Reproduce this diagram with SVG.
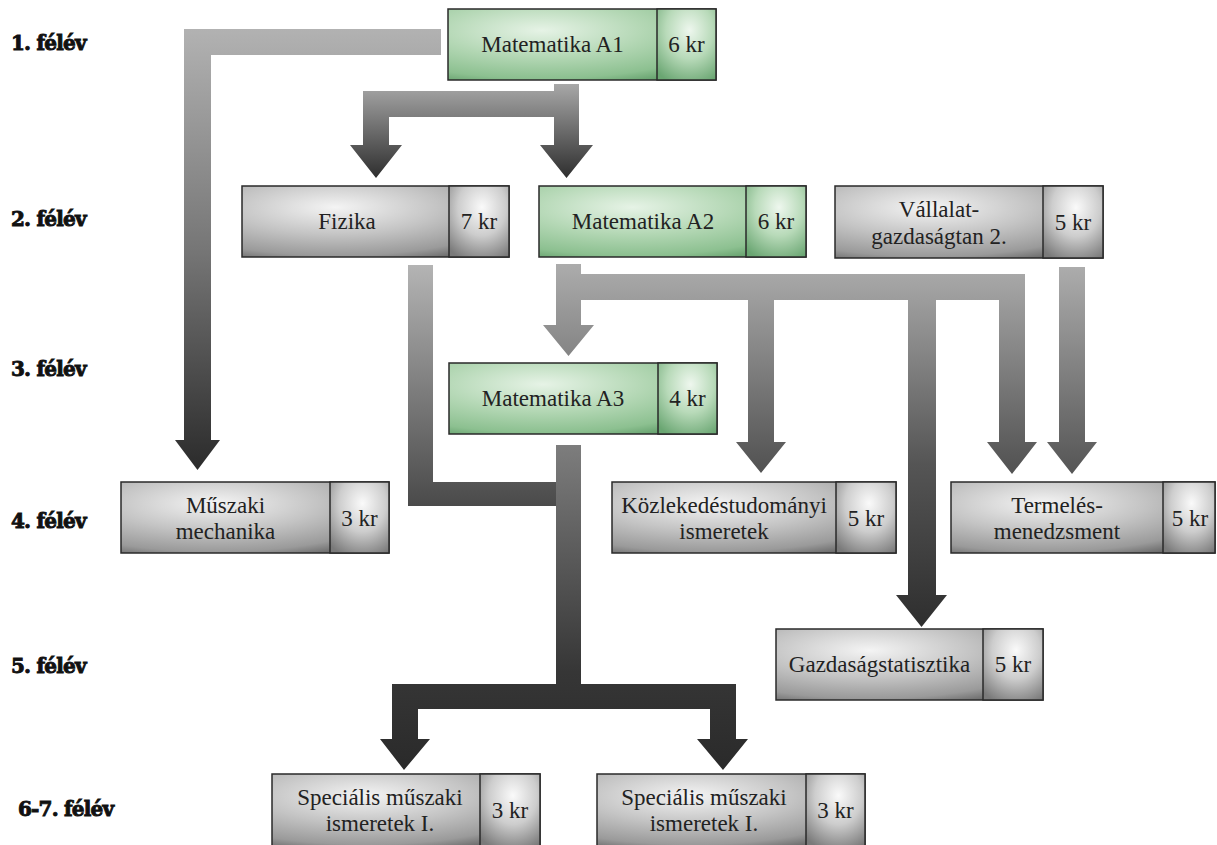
<svg xmlns="http://www.w3.org/2000/svg" width="1217" height="845" viewBox="0 0 1217 845">
<defs>
<radialGradient id="gGrey" cx="0.35" cy="0.3" r="0.85">
<stop offset="0" stop-color="#f4f4f4"/>
<stop offset="0.45" stop-color="#c4c4c4"/>
<stop offset="0.8" stop-color="#9a9a9a"/>
<stop offset="1" stop-color="#5e5e5e"/>
</radialGradient>
<radialGradient id="gGreyS" cx="0.55" cy="0.3" r="0.8">
<stop offset="0" stop-color="#fafafa"/>
<stop offset="0.5" stop-color="#cdcdcd"/>
<stop offset="1" stop-color="#7a7a7a"/>
</radialGradient>
<radialGradient id="gGreen" cx="0.35" cy="0.3" r="0.85">
<stop offset="0" stop-color="#e6f3e6"/>
<stop offset="0.45" stop-color="#b3d7b4"/>
<stop offset="0.8" stop-color="#8cc090"/>
<stop offset="1" stop-color="#5a9863"/>
</radialGradient>
<radialGradient id="gGreenS" cx="0.55" cy="0.3" r="0.8">
<stop offset="0" stop-color="#eef7ee"/>
<stop offset="0.5" stop-color="#b8dab9"/>
<stop offset="1" stop-color="#6aa672"/>
</radialGradient>
<linearGradient id="a1" gradientUnits="userSpaceOnUse" x1="0" y1="29" x2="0" y2="470">
<stop offset="0" stop-color="#b2b2b2"/>
<stop offset="0.5" stop-color="#767676"/>
<stop offset="1" stop-color="#2b2b2b"/>
</linearGradient>
<linearGradient id="a2" gradientUnits="userSpaceOnUse" x1="0" y1="84" x2="0" y2="178">
<stop offset="0" stop-color="#a8a8a8"/>
<stop offset="1" stop-color="#2e2e2e"/>
</linearGradient>
<linearGradient id="a3" gradientUnits="userSpaceOnUse" x1="0" y1="265" x2="0" y2="506">
<stop offset="0" stop-color="#b4b4b4"/>
<stop offset="1" stop-color="#4a4a4a"/>
</linearGradient>
<linearGradient id="a4" gradientUnits="userSpaceOnUse" x1="0" y1="445" x2="0" y2="770">
<stop offset="0" stop-color="#7d7d7d"/>
<stop offset="0.7" stop-color="#363636"/>
<stop offset="1" stop-color="#2a2a2a"/>
</linearGradient>
<linearGradient id="a5" gradientUnits="userSpaceOnUse" x1="0" y1="264" x2="0" y2="627">
<stop offset="0" stop-color="#acacac"/>
<stop offset="0.55" stop-color="#555555"/>
<stop offset="1" stop-color="#2e2e2e"/>
</linearGradient>
<linearGradient id="a6" gradientUnits="userSpaceOnUse" x1="0" y1="267" x2="0" y2="474">
<stop offset="0" stop-color="#acacac"/>
<stop offset="1" stop-color="#555555"/>
</linearGradient>
</defs>
<style>
.box{stroke:#2a2a2a;stroke-width:1.5}
.grey{fill:url(#gGrey)}
.greyS{fill:url(#gGreyS)}
.green{fill:url(#gGreen)}
.greenS{fill:url(#gGreenS)}
</style>
<rect width="1217" height="845" fill="#ffffff"/>

<g id="semester-labels" font-family="'DejaVu Serif', serif" font-weight="bold" font-size="20" fill="#111" stroke="#111" stroke-width="0.9" letter-spacing="-0.8">
<text x="11" y="50">1. félév</text>
<text x="11" y="226">2. félév</text>
<text x="11" y="376">3. félév</text>
<text x="11" y="528">4. félév</text>
<text x="11" y="673">5. félév</text>
<text x="18" y="816">6-7. félév</text>
</g>

<g id="connectors">
<polygon fill="url(#a1)" points="441,29 184,29 184,440 175,440 197.5,470 220,440 211,440 211,55 441,55"/>
<polygon fill="url(#a2)" points="363,91 554,91 554,84 579,84 579,145 593,145 566.5,178 540,145 554,145 554,117 389,117 389,145 402,145 376,178 350,145 363,145"/>
<polygon fill="url(#a3)" points="408,265 433,265 433,482 557,482 557,506 408,506"/>
<polygon fill="url(#a4)" points="556,445 581,445 581,684 736,684 736,739 748,739 723,770 697,739 710,739 710,709 418,709 418,739 430,739 404,770 380,739 392,739 392,684 556,684"/>
<polygon fill="url(#a5)" points="556,264 581,264 581,274 1025,274 1025,442 1037,442 1012,474 987,442 999,442 999,300 936,300 936,595 947,595 921.5,627 896,595 908,595 908,300 774,300 774,442 786,442 761,473 736,442 748,442 748,300 581,300 581,325 594,325 568.5,356 543,325 556,325"/>
<polygon fill="url(#a6)" points="1059,267 1085,267 1085,442 1097,442 1072,474 1047,442 1059,442"/>
</g>

<g id="nodes" font-family="'Liberation Serif', 'DejaVu Serif Condensed', 'DejaVu Serif', serif" font-size="23" fill="#222" text-anchor="middle">
<g id="matematika-a1">
<rect class="box green" x="448" y="9" width="268" height="71"/>
<rect class="box greenS" x="657" y="9" width="59" height="71"/>
<text x="552.5" y="52">Matematika A1</text>
<text x="686.5" y="52">6 kr</text>
</g>

<g id="fizika">
<rect class="box grey" x="242" y="186" width="267" height="71"/>
<rect class="box greyS" x="449" y="186" width="60" height="71"/>
<text x="347" y="229">Fizika</text>
<text x="479" y="229">7 kr</text>
</g>

<g id="matematika-a2">
<rect class="box green" x="539" y="186" width="267" height="71"/>
<rect class="box greenS" x="746" y="186" width="60" height="71"/>
<text x="643" y="229">Matematika A2</text>
<text x="776" y="229">6 kr</text>
</g>

<g id="vallalatgazdasagtan">
<rect class="box grey" x="835" y="186" width="268" height="72"/>
<rect class="box greyS" x="1043" y="186" width="60" height="72"/>
<text x="939" y="217">Vállalat-</text>
<text x="939" y="244">gazdaságtan 2.</text>
<text x="1073" y="230">5 kr</text>
</g>

<g id="matematika-a3">
<rect class="box green" x="449" y="363" width="268" height="71"/>
<rect class="box greenS" x="658" y="363" width="59" height="71"/>
<text x="553" y="406">Matematika A3</text>
<text x="687.5" y="406">4 kr</text>
</g>

<g id="muszaki-mechanika">
<rect class="box grey" x="121" y="482" width="268" height="71"/>
<rect class="box greyS" x="330" y="482" width="59" height="71"/>
<text x="225.5" y="513">Műszaki</text>
<text x="225.5" y="539">mechanika</text>
<text x="359.5" y="526">3 kr</text>
</g>

<g id="kozlekedestudomanyi">
<rect class="box grey" x="612" y="482" width="284" height="71"/>
<rect class="box greyS" x="836" y="482" width="60" height="71"/>
<text x="724" y="513">Közlekedéstudományi</text>
<text x="724" y="539">ismeretek</text>
<text x="866" y="526">5 kr</text>
</g>

<g id="termelesmenedzsment">
<rect class="box grey" x="951" y="482" width="264" height="71"/>
<rect class="box greyS" x="1163" y="482" width="52" height="71"/>
<text x="1057" y="513">Termelés-</text>
<text x="1057" y="539">menedzsment</text>
<text x="1190" y="526">5 kr</text>
</g>

<g id="gazdasagstatisztika">
<rect class="box grey" x="776" y="629" width="267" height="71"/>
<rect class="box greyS" x="983" y="629" width="60" height="71"/>
<text x="879.5" y="672">Gazdaságstatisztika</text>
<text x="1013" y="672">5 kr</text>
</g>

<g id="specialis-1">
<rect class="box grey" x="272" y="774" width="268" height="72"/>
<rect class="box greyS" x="480" y="774" width="60" height="72"/>
<text x="380" y="805">Speciális műszaki</text>
<text x="380" y="831">ismeretek I.</text>
<text x="510" y="818">3 kr</text>
</g>

<g id="specialis-2">
<rect class="box grey" x="597" y="774" width="268" height="72"/>
<rect class="box greyS" x="806" y="774" width="59" height="72"/>
<text x="704" y="805">Speciális műszaki</text>
<text x="704" y="831">ismeretek I.</text>
<text x="835.5" y="818">3 kr</text>
</g>
</g>
</svg>
